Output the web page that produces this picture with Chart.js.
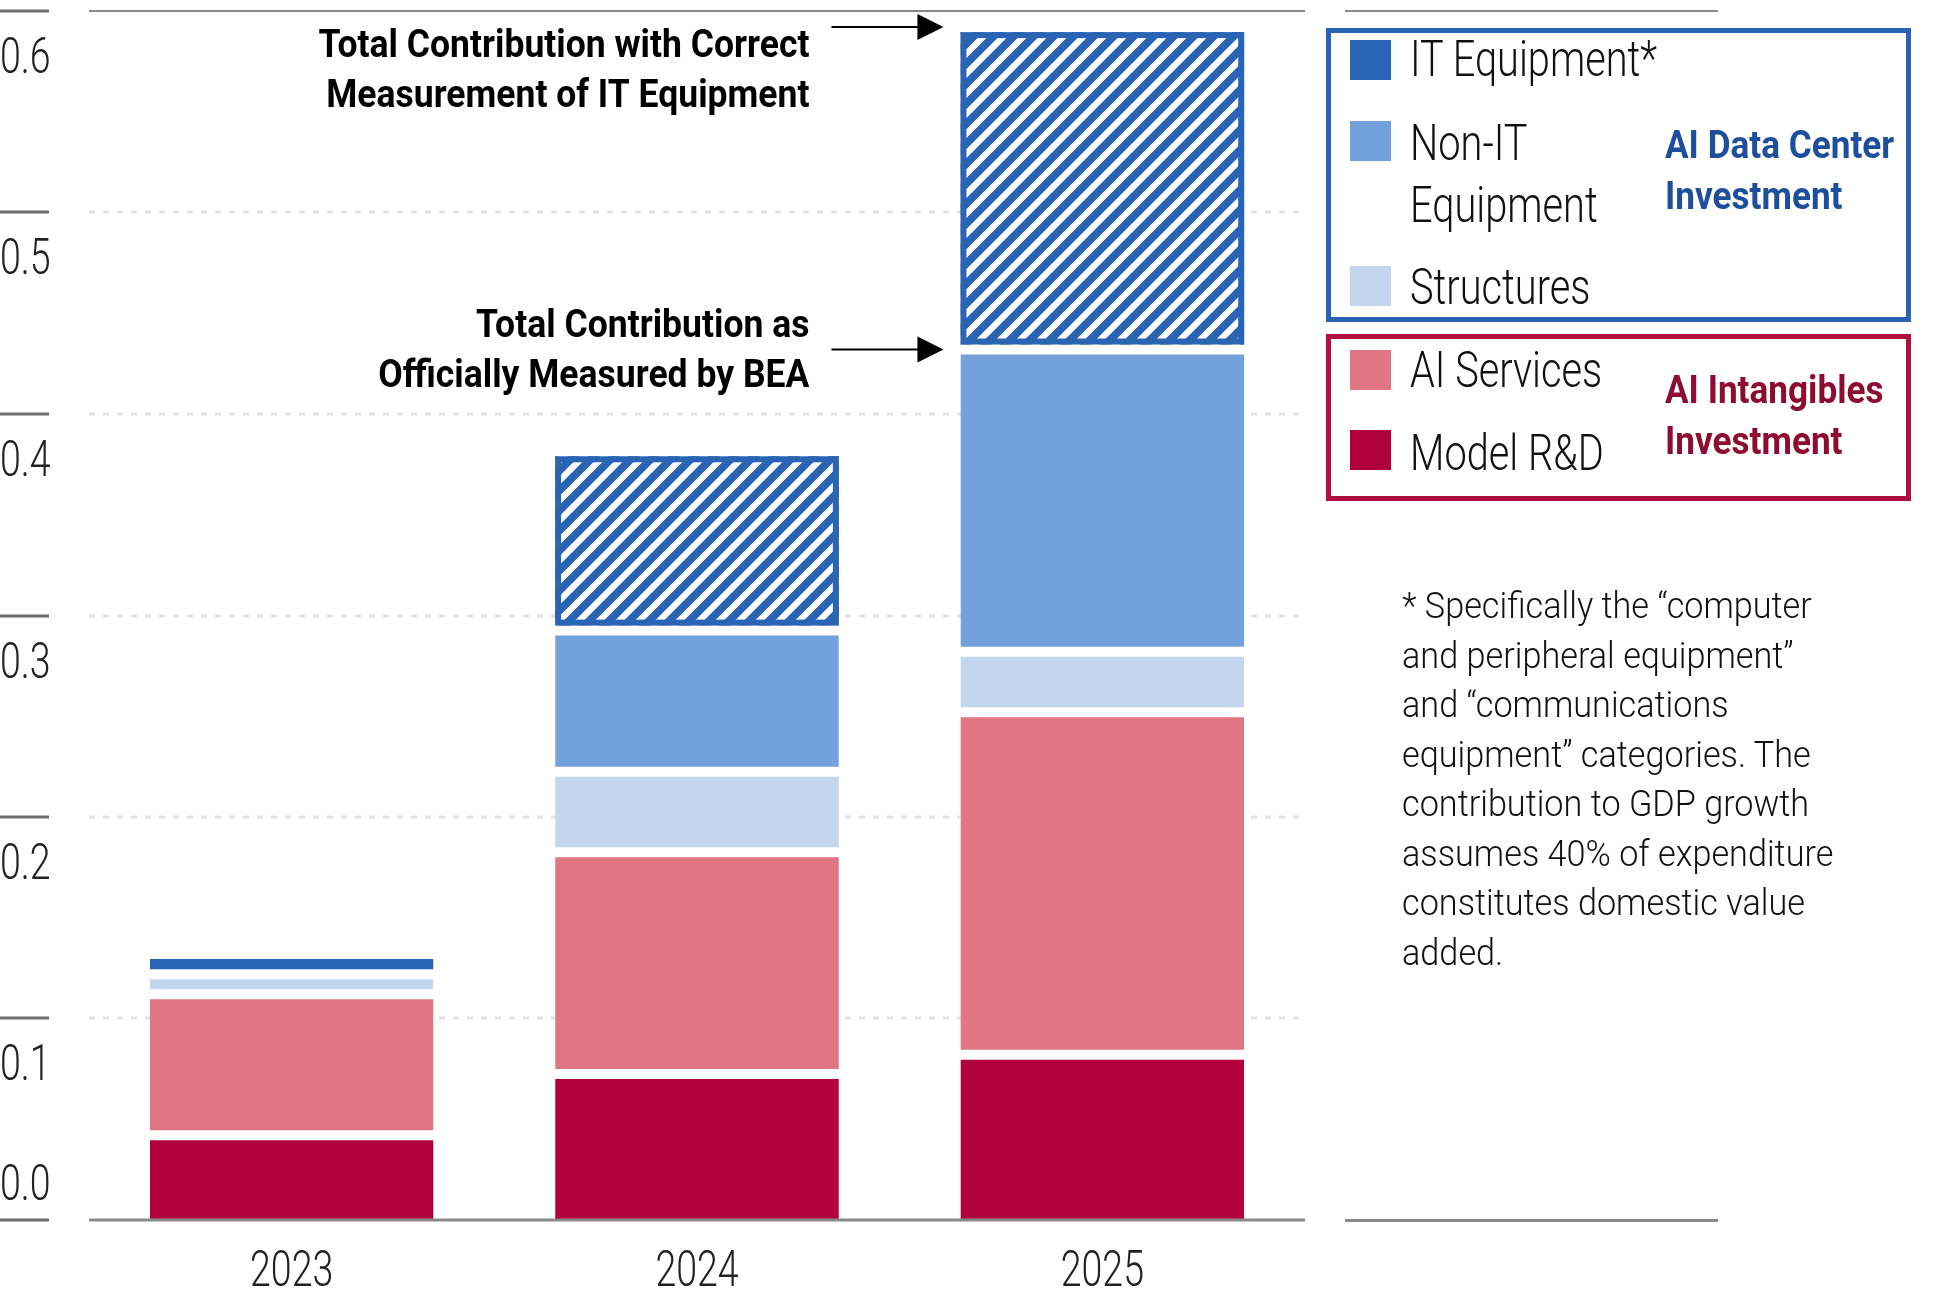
<!DOCTYPE html>
<html lang="en">
<head>
  <meta charset="UTF-8">
  <title>AI Investment Contribution to GDP Growth</title>
  <script src="https://cdn.jsdelivr.net/npm/chart.js"></script>
  <style>
    body { margin: 0; background: #fff; }
    #wrap { position: relative; width: 1939px; height: 1307px; overflow: hidden; }
    #chart { position: absolute; left: 0; top: 0; }
    .abs { position: absolute; white-space: nowrap; font-family: Roboto, 'Noto Sans', sans-serif; }
    .abs span { display: inline-block; transform-origin: left center; }
    .rule { position: absolute; background: #8a8a8a; }
    .box { position: absolute; box-sizing: border-box; border: 5px solid; }
    .swatch { position: absolute; width: 41px; height: 40px; }
  </style>
</head>
<body>
<div id="wrap">
  <canvas id="chart" width="1939" height="1307"></canvas>
  <div id="legend"></div>
  <div id="note" class="abs"></div>
</div>

<script>
  // categories and values (percentage points of GDP growth)
  const years = ['2023', '2024', '2025'];
  const modelRD = [0.042, 0.0725, 0.082];
  const aiServices = [0.070, 0.110, 0.170];
  const structures = [0.010, 0.040, 0.030];
  const nonITEquipment = [0.000, 0.070, 0.150];
  const itEquipment = [0.010, 0.089, 0.160];
  // years where IT equipment is shown at its corrected measurement
  const correctedYears = ['2024', '2025'];

  const yTicks = [0, 0.1, 0.2, 0.3, 0.4, 0.5, 0.6];
  const yTickLabels = ['0.0', '0.1', '0.2', '0.3', '0.4', '0.5', '0.6'];

  const seriesNames = ['Model R&D', 'AI Services', 'Structures', 'Non-IT Equipment', 'IT Equipment*'];
  const annotationTop = ['Total Contribution with Correct', 'Measurement of IT Equipment'];
  const annotationMid = ['Total Contribution as', 'Officially Measured by BEA'];
  const noteLines = [
    '* Specifically the \u201ccomputer',
    'and peripheral equipment\u201d',
    'and \u201ccommunications',
    'equipment\u201d categories. The',
    'contribution to GDP growth',
    'assumes 40% of expenditure',
    'constitutes domestic value',
    'added.'
  ];

  const colors = {
    itEquipment: '#2964b5',
    nonIT: '#72a1dc',
    structures: '#c4d5ee',
    aiServices: '#e07683',
    modelRD: '#b1003c',
    blueBox: '#2b63b3',
    redBox: '#b0103f',
    blueText: '#1d4f9c',
    redText: '#8e0b33'
  };
  const FONT = "Roboto, 'Noto Sans', sans-serif";

  // text squeezed horizontally, to mimic the condensed face of the original
  function squeezed(ctx, text, x, y, sx, align) {
    ctx.save();
    ctx.translate(x, y);
    ctx.scale(sx, 1);
    ctx.textAlign = align;
    ctx.textBaseline = 'middle';
    ctx.fillText(text, 0, 0);
    ctx.restore();
  }

  // diagonal hatch for the corrected IT equipment segment
  function makeHatch() {
    const c = document.createElement('canvas');
    c.width = 20; c.height = 20;
    const g = c.getContext('2d');
    g.fillStyle = colors.itEquipment;
    g.fillRect(0, 0, 20, 20);
    g.strokeStyle = '#fff';
    g.lineWidth = 6.3;
    g.beginPath();
    g.moveTo(-10, 10); g.lineTo(10, -10);
    g.moveTo(0, 20); g.lineTo(20, 0);
    g.moveTo(10, 30); g.lineTo(30, 10);
    g.stroke();
    return g.createPattern(c, 'repeat');
  }
  const hatch = makeHatch();

  const gap = 5;
  const midBorder = {top: gap, bottom: gap, left: 0, right: 0};

  const gridPlugin = {
    id: 'grid',
    beforeDatasetsDraw(chart) {
      const {ctx, chartArea, scales: {x, y}} = chart;
      ctx.save();
      yTicks.forEach((v, i) => {
        const py = Math.round(y.getPixelForValue(v));
        ctx.setLineDash([]);
        ctx.strokeStyle = '#6e6e6e';
        ctx.lineWidth = 3;
        ctx.beginPath(); ctx.moveTo(0, py); ctx.lineTo(49, py); ctx.stroke();
        if (i === yTicks.length - 1) {
          ctx.strokeStyle = '#8a8a8a';
          ctx.lineWidth = 2;
          ctx.beginPath(); ctx.moveTo(chartArea.left, py); ctx.lineTo(chartArea.right, py); ctx.stroke();
        } else if (i > 0) {
          ctx.strokeStyle = '#e2e2e2';
          ctx.lineWidth = 3;
          ctx.setLineDash([6, 8]);
          ctx.beginPath(); ctx.moveTo(chartArea.left, py); ctx.lineTo(chartArea.right, py); ctx.stroke();
        }
        ctx.setLineDash([]);
        ctx.fillStyle = '#222';
        ctx.font = '300 50px ' + FONT;
        squeezed(ctx, yTickLabels[i], 0, i === 0 ? py - 33 : py + 49, 0.75, 'left');
      });
      // category labels
      years.forEach((yr, i) => {
        squeezed(ctx, yr, x.getPixelForValue(i), chartArea.bottom + 53, 0.75, 'center');
      });
      ctx.restore();
    },
    afterDatasetsDraw(chart) {
      const {ctx, chartArea, scales: {y}} = chart;
      ctx.save();
      // frame round the hatched segments
      const itIdx = chart.data.datasets.length - 1;
      const meta = chart.getDatasetMeta(itIdx);
      meta.data.forEach((bar, i) => {
        if (!correctedYears.includes(years[i])) return;
        const left = bar.x - bar.width / 2;
        const top = bar.y + gap;
        const h = bar.base - bar.y - 2 * gap;
        ctx.strokeStyle = colors.itEquipment;
        ctx.lineWidth = 6;
        ctx.strokeRect(left + 3, top + 3, bar.width - 6, h - 6);
      });
      // base line
      const py0 = Math.round(y.getPixelForValue(0));
      ctx.strokeStyle = '#8a8a8a';
      ctx.lineWidth = 3;
      ctx.beginPath(); ctx.moveTo(chartArea.left, py0); ctx.lineTo(chartArea.right, py0); ctx.stroke();

      // arrows and annotation text, pointing at the last bar
      const last = years.length - 1;
      const totalAll = [modelRD, aiServices, structures, nonITEquipment, itEquipment]
        .reduce((s, arr) => s + arr[last], 0);
      const totalBEA = totalAll - itEquipment[last];
      const barLast = meta.data[last];
      const tipX = barLast.x - barLast.width / 2 - 17;
      function arrow(yv) {
        const ay = y.getPixelForValue(yv);
        ctx.strokeStyle = '#000';
        ctx.lineWidth = 2;
        ctx.beginPath(); ctx.moveTo(tipX - 112, ay); ctx.lineTo(tipX - 24, ay); ctx.stroke();
        ctx.fillStyle = '#000';
        ctx.beginPath();
        ctx.moveTo(tipX, ay); ctx.lineTo(tipX - 26, ay - 13); ctx.lineTo(tipX - 26, ay + 13);
        ctx.closePath(); ctx.fill();
        return ay;
      }
      ctx.font = 'bold 38px ' + FONT;
      const a1 = arrow(totalAll);
      squeezed(ctx, annotationTop[0], tipX - 134, a1 + 20, 0.935, 'right');
      squeezed(ctx, annotationTop[1], tipX - 134, a1 + 70, 0.935, 'right');
      const a2 = arrow(totalBEA);
      squeezed(ctx, annotationMid[0], tipX - 134, a2 - 22, 0.935, 'right');
      squeezed(ctx, annotationMid[1], tipX - 134, a2 + 28, 0.935, 'right');
      ctx.restore();
    }
  };

  new Chart(document.getElementById('chart'), {
    type: 'bar',
    data: {
      labels: years,
      datasets: [
        {label: seriesNames[0], data: modelRD, backgroundColor: colors.modelRD,
         borderWidth: {top: gap, bottom: 0, left: 0, right: 0}},
        {label: seriesNames[1], data: aiServices, backgroundColor: colors.aiServices, borderWidth: midBorder},
        {label: seriesNames[2], data: structures, backgroundColor: colors.structures, borderWidth: midBorder},
        {label: seriesNames[3], data: nonITEquipment, backgroundColor: colors.nonIT, borderWidth: midBorder},
        {label: seriesNames[4], data: itEquipment, borderWidth: midBorder,
         backgroundColor: c => correctedYears.includes(years[c.dataIndex]) ? hatch : colors.itEquipment}
      ]
    },
    options: {
      responsive: false,
      animation: false,
      devicePixelRatio: 1,
      layout: {padding: {left: 89, right: 634, top: 11, bottom: 0}},
      datasets: {
        bar: {
          borderColor: '#fff',
          borderSkipped: false,
          categoryPercentage: 1,
          barPercentage: 0.7,
          inflateAmount: 0
        }
      },
      plugins: {legend: {display: false}, tooltip: {enabled: false}},
      scales: {
        x: {
          stacked: true,
          grid: {display: false, drawTicks: false},
          border: {display: false},
          ticks: {display: false},
          afterFit: s => { s.height = 87; }
        },
        y: {
          stacked: true,
          display: false,
          min: 0,
          max: 0.6
        }
      }
    },
    plugins: [gridPlugin]
  });

  // legend (two grouped boxes)
  const legend = document.getElementById('legend');
  function add(html) { legend.insertAdjacentHTML('beforeend', html); }
  function esc(s) { return s.replace('&', '&amp;'); }
  add('<div class="rule" style="left:1345px;top:10px;width:373px;height:2px"></div>');
  add('<div class="rule" style="left:1345px;top:1219px;width:373px;height:3px"></div>');
  add(`<div class="box" style="left:1326px;top:28px;width:585px;height:294px;border-color:${colors.blueBox}"></div>`);
  add(`<div class="box" style="left:1326px;top:334px;width:585px;height:167px;border-color:${colors.redBox}"></div>`);

  const legendRows = [
    {words: ['IT Equipment*'], color: colors.itEquipment, sq: 40, lines: [59]},
    {words: ['Non-IT', 'Equipment'], color: colors.nonIT, sq: 121, lines: [143, 205]},
    {words: [seriesNames[2]], color: colors.structures, sq: 266, lines: [287]},
    {words: [seriesNames[1]], color: colors.aiServices, sq: 350, lines: [370]},
    {words: [seriesNames[0]], color: colors.modelRD, sq: 430, lines: [453]}
  ];
  legendRows.forEach(r => {
    add(`<div class="swatch" style="left:1350px;top:${r.sq}px;background:${r.color}"></div>`);
    r.words.forEach((w, i) => {
      add(`<div class="abs" style="left:1410px;top:${r.lines[i] - 30}px;line-height:60px;font-size:50px;font-weight:300;color:#111"><span style="transform:scaleX(0.795)">${esc(w)}</span></div>`);
    });
  });
  const groupRows = [
    {words: ['AI Data Center', 'Investment'], color: colors.blueText, lines: [145, 196]},
    {words: ['AI Intangibles', 'Investment'], color: colors.redText, lines: [390, 441]}
  ];
  groupRows.forEach(g => {
    g.words.forEach((w, i) => {
      add(`<div class="abs" style="left:1665px;top:${g.lines[i] - 25}px;line-height:50px;font-size:38px;font-weight:bold;color:${g.color}"><span style="transform:scaleX(0.925)">${w}</span></div>`);
    });
  });

  // footnote
  const note = document.getElementById('note');
  note.style.cssText += 'left:1402px;top:581px;font-size:37px;font-weight:300;line-height:49.5px;color:#111;';
  note.innerHTML = '<span style="transform:scaleX(0.925)">' + noteLines.join('<br>') + '</span>';
</script>
</body>
</html>
